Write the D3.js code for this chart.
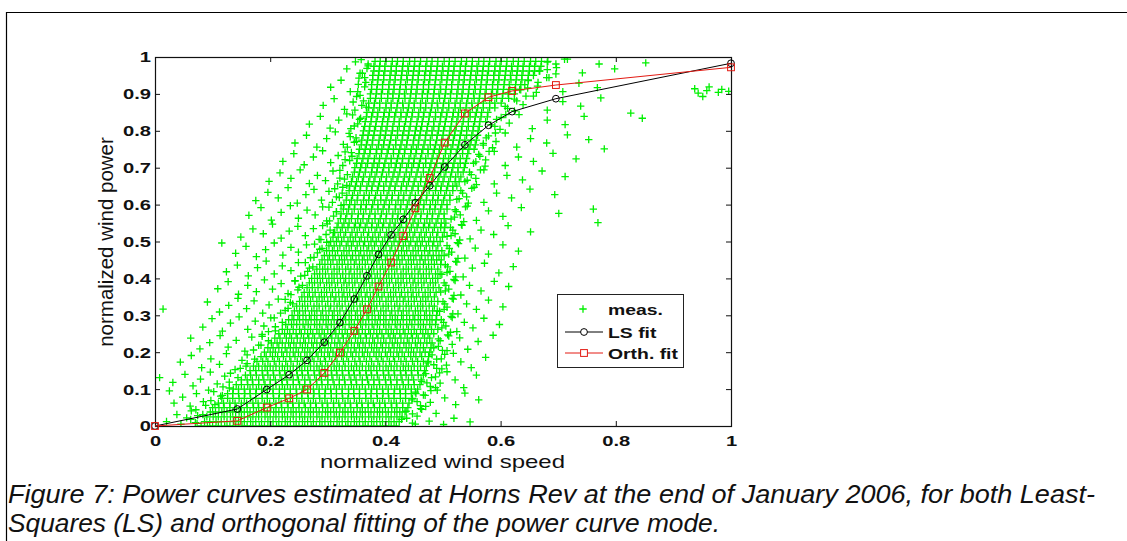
<!DOCTYPE html>
<html><head><meta charset="utf-8">
<script src="https://cdn.jsdelivr.net/npm/d3@7"></script>
<style>body{margin:0;background:#fff}svg{display:block}</style>
</head><body>
<svg id="c" width="1127" height="541"></svg>
<script>
// ---------- data ----------
const fitX  = [0,0.143,0.194,0.233,0.264,0.294,0.321,0.346,0.368,0.388,0.41,0.431,0.452,0.477,0.503,0.538,0.579,0.62,0.696,1.0];
const lsY   = [0,0.046,0.099,0.139,0.178,0.227,0.28,0.344,0.407,0.465,0.518,0.56,0.605,0.651,0.702,0.762,0.815,0.852,0.887,0.983];
const orthY = [0,0.014,0.05,0.075,0.099,0.144,0.199,0.258,0.316,0.378,0.443,0.515,0.59,0.672,0.768,0.847,0.891,0.908,0.924,0.972];
const xTicks = [0,0.2,0.4,0.6,0.8,1];
const yTicks = [0,0.1,0.2,0.3,0.4,0.5,0.6,0.7,0.8,0.9,1];
const legendLabels = ["meas.","LS fit","Orth. fit"];
const xLabel = "normalized wind speed";
const yLabel = "normalized wind power";
const captionLines = [
  "Figure 7: Power curves estimated at Horns Rev at the end of January 2006, for both Least-",
  "Squares (LS) and orthogonal fitting of the power curve mode."
];
// dense core of the measurements: [power x1000, [speed x1000 ...]]
const measCore = [
[0,[80,91,100,110,121,130,140,151,160,170,181,190,200,211,220,230,241,250,260,271,280,290,301,310,320,331,340,350,361,370,380,391,400,410,419]],
[12,[86,95,106,115,125,136,145,155,166,175,185,196,205,215,226,235,245,256,265,275,286,295,305,316,325,335,346,355,365,376,385,395,406,415,424]],
[25,[90,101,110,120,131,140,150,161,170,180,191,200,210,221,230,240,251,260,270,281,290,300,311,320,330,341,350,360,371,380,390,401,410,420,429]],
[38,[96,105,116,125,135,146,155,165,176,185,195,206,215,225,236,245,255,266,275,285,296,305,315,326,335,345,356,365,375,386,395,405,416,425,434]],
[50,[100,111,120,130,141,150,160,171,180,190,201,210,220,231,240,250,261,270,280,291,300,310,321,330,340,351,360,370,381,390,400,411,420,430,439]],
[62,[110,119,130,139,150,159,170,179,190,199,210,219,230,239,250,259,270,279,290,299,310,319,330,339,350,359,370,379,390,399,410,419,430,441]],
[75,[116,126,135,146,155,166,175,186,195,206,215,226,235,246,255,266,275,286,295,306,315,326,335,346,355,366,375,386,395,406,415,426,435,447]],
[88,[126,135,145,156,165,175,186,195,205,216,225,235,246,255,265,276,285,295,306,315,325,336,345,355,366,375,385,396,405,415,426,435,445,453]],
[100,[136,145,155,165,176,185,195,205,216,225,235,245,256,265,275,285,296,305,315,325,336,345,355,365,376,385,395,405,416,425,435,445,456]],
[112,[141,150,161,170,180,191,200,210,221,230,240,251,260,270,281,290,300,311,320,330,341,350,360,371,380,390,401,410,420,431,440,450,460]],
[125,[150,160,169,180,189,200,209,220,229,240,249,260,269,280,289,300,309,320,329,340,349,360,369,380,389,400,409,420,429,440,449,462]],
[138,[157,166,176,187,196,206,217,226,236,247,256,266,277,286,296,307,316,326,337,346,356,367,376,386,397,406,416,427,436,446,457,466]],
[150,[165,175,186,195,205,216,225,235,246,255,265,276,285,295,306,315,325,336,345,355,366,375,385,396,405,415,426,435,445,456,468]],
[162,[171,180,191,200,210,221,230,240,251,260,270,281,290,300,311,320,330,341,350,360,371,380,390,401,410,420,431,440,450,461,471]],
[175,[177,187,196,207,216,227,236,247,256,267,276,287,296,307,316,327,336,347,356,367,376,387,396,407,416,427,436,447,456,466,474]],
[188,[184,193,204,213,223,234,243,253,264,273,283,294,303,313,324,333,343,354,363,373,384,393,403,414,423,433,444,453,463,475]],
[200,[190,200,209,220,229,240,249,260,269,280,289,300,309,320,329,340,349,360,369,380,389,400,409,420,429,440,449,460,469,477]],
[212,[196,205,215,226,235,245,256,265,275,286,295,305,316,325,335,346,355,365,376,385,395,406,415,425,436,445,455,466,479]],
[225,[202,212,221,232,241,252,261,272,281,292,301,312,321,332,341,352,361,372,381,392,401,412,421,432,441,452,461,472,481]],
[238,[208,217,228,237,247,258,267,277,288,297,307,318,327,337,348,357,367,378,387,397,408,417,427,438,447,457,468,477]],
[250,[215,225,234,245,254,265,274,285,294,305,314,325,334,345,354,365,374,385,394,405,414,425,434,445,454,465,474,484]],
[262,[221,230,240,251,260,270,281,290,300,311,320,330,341,350,360,371,380,390,401,410,420,431,440,450,461,470,480]],
[275,[227,237,246,257,266,277,286,297,306,317,326,337,346,357,366,377,386,397,406,417,426,437,446,457,466,477,487]],
[288,[232,241,251,262,271,281,292,301,311,322,331,341,352,361,371,382,391,401,412,421,431,442,451,461,472,481,488]],
[300,[238,248,257,268,277,288,297,308,317,328,337,348,357,368,377,388,397,408,417,428,437,448,457,468,477,489]],
[312,[242,251,261,272,281,291,302,311,321,332,341,351,362,371,381,392,401,411,422,431,441,452,461,471,482,490]],
[325,[246,256,265,276,285,296,305,316,325,336,345,356,365,376,385,396,405,416,425,436,445,456,465,476,485]],
[338,[251,260,270,281,290,300,311,320,330,341,350,360,371,380,390,401,410,420,431,440,450,461,470,480,491]],
[350,[255,265,274,285,294,305,314,325,334,345,354,365,374,385,394,405,414,425,434,445,454,465,474,485]],
[362,[259,268,278,289,298,308,319,328,338,349,358,368,379,388,398,409,418,428,439,448,458,469,478,488]],
[375,[264,273,283,294,303,313,324,333,343,354,363,373,384,393,403,414,423,433,444,453,463,474,483,493]],
[388,[268,277,287,298,307,317,328,337,347,358,367,377,388,397,407,418,427,437,448,457,467,478,487]],
[400,[272,282,291,302,311,322,331,342,351,362,371,382,391,402,411,422,431,442,451,462,471,482,491]],
[412,[277,286,296,307,316,326,337,346,356,367,376,386,397,406,416,427,436,446,457,466,476,487,495]],
[425,[281,291,300,311,320,331,340,351,360,371,380,391,400,411,420,431,440,451,460,471,480,491]],
[438,[286,295,305,316,325,335,346,355,365,376,385,395,406,415,425,436,445,455,466,475,485,496]],
[450,[290,300,309,320,329,340,349,360,369,380,389,400,409,420,429,440,449,460,469,480,489,497]],
[462,[294,303,313,324,333,343,354,363,373,384,393,403,414,423,433,444,453,463,474,483,493]],
[475,[298,308,317,328,337,348,357,368,377,388,397,408,417,428,437,448,457,468,477,488,498]],
[488,[302,311,321,332,341,351,362,371,381,392,401,411,422,431,441,452,461,471,482,491]],
[500,[305,315,324,335,344,355,364,375,384,395,404,415,424,435,444,455,464,475,484,495]],
[512,[309,318,328,339,348,358,369,378,388,399,408,418,429,438,448,459,468,478,489,499]],
[525,[312,322,331,342,351,362,371,382,391,402,411,422,431,442,451,462,471,482,491,502]],
[538,[316,325,335,346,355,365,376,385,395,406,415,425,436,445,455,466,475,485,496,503]],
[550,[318,328,337,348,357,368,377,388,397,408,417,428,437,448,457,468,477,488,497,505]],
[562,[322,331,341,352,361,371,382,391,401,412,421,431,442,451,461,472,481,491,502]],
[575,[323,333,342,353,362,373,382,393,402,413,422,433,442,453,462,473,482,493,502]],
[588,[327,336,346,357,366,376,387,396,406,417,426,436,447,456,466,477,486,496,507]],
[600,[328,338,347,358,367,378,387,398,407,418,427,438,447,458,467,478,487,498,507]],
[612,[332,341,351,362,371,381,392,401,411,422,431,441,452,461,471,482,491,501,512]],
[625,[333,343,352,363,372,383,392,403,412,423,432,443,452,463,472,483,492,503,512]],
[638,[337,346,356,367,376,386,397,406,416,427,436,446,457,466,476,487,496,506,517]],
[650,[338,348,357,368,377,388,397,408,417,428,437,448,457,468,477,488,497,508,517,524]],
[662,[341,350,360,371,380,390,401,410,420,431,440,450,461,470,480,491,500,510,521,528]],
[675,[343,353,362,373,382,393,402,413,422,433,442,453,462,473,482,493,502,513,522,531]],
[688,[346,355,365,376,385,395,406,415,425,436,445,455,466,475,485,496,505,515,526,535]],
[700,[347,357,366,377,386,397,406,417,426,437,446,457,466,477,486,497,506,517,526,537]],
[712,[350,359,369,380,389,399,410,419,429,440,449,459,470,479,489,500,509,519,530,539]],
[725,[351,361,370,381,390,401,410,421,430,441,450,461,470,481,490,501,510,521,530,541]],
[738,[354,363,373,384,393,403,414,423,433,444,453,463,474,483,493,504,513,523,534,543]],
[750,[355,365,374,385,394,405,414,425,434,445,454,465,474,485,494,505,514,525,534,545,554]],
[762,[358,367,377,388,397,407,418,427,437,448,457,467,478,487,497,508,517,527,538,547,556]],
[775,[359,369,378,389,398,409,418,429,438,449,458,469,478,489,498,509,518,529,538,549,558]],
[788,[361,370,380,391,400,410,421,430,440,451,460,470,481,490,500,511,520,530,541,550,560]],
[800,[362,372,381,392,401,412,421,432,441,452,461,472,481,492,501,512,521,532,541,552,561]],
[812,[364,373,383,394,403,413,424,433,443,454,463,473,484,493,503,514,523,533,544,553,563]],
[825,[365,375,384,395,404,415,424,435,444,455,464,475,484,495,504,515,524,535,544,555,564,574]],
[838,[367,376,386,397,406,416,427,436,446,457,466,476,487,496,506,517,526,536,547,556,566,577]],
[850,[368,378,387,398,407,418,427,438,447,458,467,478,487,498,507,518,527,538,547,558,567,578]],
[862,[371,380,390,401,410,420,431,440,450,461,470,480,491,500,510,521,530,540,551,560,570,581,590]],
[875,[371,381,390,401,410,421,430,441,450,461,470,481,490,501,510,521,530,541,550,561,570,581,590,601]],
[888,[374,383,393,404,413,423,434,443,453,464,473,483,494,503,513,524,533,543,554,563,573,584,593,603,614]],
[900,[374,384,393,404,413,424,433,444,453,464,473,484,493,504,513,524,533,544,553,564,573,584,593,604,613,624]],
[912,[376,385,395,406,415,425,436,445,455,466,475,485,496,505,515,526,535,545,556,565,575,586,595,605,616,625,633]],
[925,[376,386,395,406,415,426,435,446,455,466,475,486,495,506,515,526,535,546,555,566,575,586,595,606,615,626,635,642]],
[938,[378,387,397,408,417,427,438,447,457,468,477,487,498,507,517,528,537,547,558,567,577,588,597,607,618,627,637,648]],
[950,[378,388,397,408,417,428,437,448,457,468,477,488,497,508,517,528,537,548,557,568,577,588,597,608,617,628,637,648,657]],
[962,[380,389,399,410,419,429,440,449,459,470,479,489,500,509,519,530,539,549,560,569,579,590,599,609,620,629,639,650,659,667]],
[975,[380,390,399,410,419,430,439,450,459,470,479,490,499,510,519,530,539,550,559,570,579,590,599,610,619,630,639,650,659,670]],
[988,[382,391,401,412,421,431,442,451,461,472,481,491,502,511,521,532,541,551,562,571,581,592,601,611,622,631,641,652,661,671,682]]
];
// points just outside the core edges: flat [speed, power, ...] x1000
const measEdge = [
62,18,73,7,437,21,452,5, 71,44,83,31,447,33,461,47, 88,56,97,69,455,66,470,53, 102,93,114,81,466,84,479,96,
118,106,129,119,472,117,487,104, 131,143,144,131,480,131,494,144, 148,156,160,169,484,166,498,155, 160,193,173,181,489,181,503,194,
171,206,184,219,492,216,507,204, 186,243,197,231,495,231,510,244, 197,256,209,269,498,266,513,254, 207,293,221,281,501,281,516,294,
218,306,231,319,502,316,517,304, 226,343,239,331,503,331,518,344, 236,356,248,369,504,366,519,354, 243,393,256,381,505,381,521,394,
253,406,265,419,507,416,522,404, 261,443,274,431,508,431,524,444, 270,456,282,469,510,466,526,454, 277,493,290,481,511,481,527,494,
285,506,297,519,514,516,529,504, 291,543,304,531,517,531,533,544, 298,556,310,569,520,566,536,554, 302,593,315,581,523,581,539,594,
308,606,320,619,528,616,544,604, 312,643,325,631,534,631,550,644, 317,656,329,669,542,666,558,654, 321,693,334,681,549,681,565,694,
326,706,338,719,557,716,573,704, 330,743,342,731,564,731,580,744, 334,756,346,769,570,766,586,754, 337,793,349,781,575,781,591,794,
340,806,352,819,583,816,599,804, 343,843,355,831,593,831,609,844, 347,856,359,869,608,866,624,854, 350,893,362,881,628,881,644,894,
352,906,364,919,647,916,662,904, 354,943,366,931,665,931,680,944, 356,956,368,969,681,966,696,954, 358,993,370,981,696,981,711,994
];
// scattered measurements further out: flat [speed, power, ...] x1000
const measSparse = [
20,12,38,31,45,5,55,22,63,41,70,9,74,28,428,18,436,40,447,8,455,27,463,45,476,13,488,34,501,4,519,21,547,11,
25,95,33,62,48,78,61,54,72,88,84,66,93,97,104,58,117,83,446,71,452,92,461,55,469,83,478,64,490,97,503,76,522,58,538,89,562,71,
8,131,31,118,52,140,66,109,79,127,96,146,108,114,121,135,129,103,463,121,470,142,478,107,487,133,495,116,507,147,521,125,536,104,558,138,
44,173,63,191,81,158,97,182,112,167,124,196,139,153,151,178,158,162,474,171,481,193,489,156,497,182,506,165,518,197,531,174,549,158,574,186,
62,238,78,209,95,226,113,245,127,214,141,232,156,203,168,241,180,219,186,248,484,212,492,236,499,205,508,247,516,221,529,239,543,208,561,229,587,246,
83,268,99,291,117,257,131,279,146,296,161,262,174,284,189,271,201,293,209,258,491,262,497,288,505,271,514,297,524,256,537,281,552,266,571,292,598,275,
14,317,91,336,112,309,128,327,144,346,159,318,172,339,187,306,198,328,214,344,226,313,235,335,494,311,500,337,507,322,516,346,526,304,541,331,558,316,579,341,604,323,
109,372,127,391,145,357,161,381,176,364,190,396,204,371,219,386,231,359,243,394,250,376,496,363,502,388,510,371,519,397,531,355,546,381,566,366,589,392,614,378,
124,418,143,436,162,407,178,429,193,447,207,412,221,434,236,421,249,443,260,408,268,428,498,411,504,437,512,419,522,446,535,404,551,428,572,441,597,415,622,432,
116,496,140,468,158,487,176,459,192,478,207,496,222,463,236,484,249,471,263,491,276,457,286,479,298,498,502,462,507,489,515,471,525,497,538,455,556,482,579,466,604,491,631,474,
149,512,170,534,188,521,204,547,219,509,233,528,248,541,261,516,275,535,288,505,299,548,310,524,507,514,513,538,521,521,532,546,547,507,566,531,588,519,613,543,652,526,769,551,
163,571,184,592,202,558,219,579,235,597,249,563,264,585,278,572,291,594,303,556,315,581,323,598,514,561,521,586,530,572,542,596,558,557,579,583,604,568,636,592,701,576,761,588,
175,611,196,633,214,618,231,646,247,604,262,627,276,641,289,612,302,636,315,621,326,647,524,614,531,638,541,621,554,647,571,606,593,631,619,618,651,642,694,627,
198,663,217,686,236,671,252,694,268,657,282,679,296,665,309,691,321,672,333,652,538,662,546,688,557,671,571,694,589,656,611,679,638,667,672,691,712,676,
222,717,241,738,259,708,275,729,291,746,305,714,318,733,330,722,341,741,553,712,562,736,574,721,589,744,608,706,631,729,657,717,691,739,731,724,
243,767,263,788,281,756,298,779,313,797,327,763,339,784,350,771,570,761,579,786,592,771,608,794,628,756,652,779,680,767,716,789,753,776,780,751,
268,818,287,839,304,807,319,829,333,846,346,813,357,834,590,812,601,836,615,821,632,844,655,806,681,829,712,817,745,839,826,848,846,834,
292,869,311,887,329,858,344,878,356,896,367,864,612,861,624,886,639,871,657,894,681,856,708,879,739,867,774,889,951,893,
305,918,323,937,339,906,353,926,364,944,635,911,648,936,664,921,684,944,708,906,736,929,768,917,937,914,943,902,958,909,962,919,978,904,984,912,996,907,
333,968,348,987,360,956,370,976,668,962,681,986,697,971,716,994,742,957,771,981,798,968,852,984
];

// ---------- drawing ----------
const svg = d3.select("#c");
const W = 1127, H = 541;
const plot = {left:155, right:731, top:57, bottom:426};
const x = d3.scaleLinear().domain([0,1]).range([plot.left, plot.right]);
const y = d3.scaleLinear().domain([0,1]).range([plot.bottom, plot.top]);
const SX = 1.3; // horizontal stretch of chart text in the picture
const GREEN = "#00f000", RED = "#e31a12", BLACK = "#000";
const FONT = "'Liberation Sans', Arial, sans-serif";

function stretch(sel, k){
  sel.each(function(){
    const w = this.getComputedTextLength();
    d3.select(this).attr("textLength", w*k).attr("lengthAdjust","spacingAndGlyphs");
  });
}

svg.append("rect").attr("width",W).attr("height",H).attr("fill","#fff");
svg.append("path").attr("d","M6.5,541V12.5H1127").attr("fill","none").attr("stroke","#000").attr("stroke-width",1.2);

// scatter
svg.append("clipPath").attr("id","pc").append("rect")
  .attr("x",plot.left).attr("y",plot.top).attr("width",plot.right-plot.left).attr("height",plot.bottom-plot.top);
const pts = [];
measCore.forEach(([py, xs]) => xs.forEach(v => pts.push([v/1000, py/1000])));
[measEdge, measSparse].forEach(arr => {
  for (let i = 0; i < arr.length; i += 2) pts.push([arr[i]/1000, arr[i+1]/1000]);
});
const cross = "M-3.7,0H3.7M0,-3.7V3.7";
svg.append("g").attr("clip-path","url(#pc)")
  .selectAll("path").data(pts).join("path")
  .attr("d",cross)
  .attr("transform",d=>`translate(${x(d[0])},${y(d[1])})`)
  .attr("stroke",GREEN).attr("stroke-width",1.3).attr("fill","none");

// axes (box with inward ticks)
const fmt = d => String(d);
const gx = svg.append("g").attr("transform",`translate(0,${plot.bottom})`)
  .call(d3.axisBottom(x).tickValues(xTicks).tickSize(-5).tickPadding(9).tickFormat(fmt));
const gy = svg.append("g").attr("transform",`translate(${plot.left},0)`)
  .call(d3.axisLeft(y).tickValues(yTicks).tickSize(-5).tickPadding(4).tickFormat(fmt));
const gt = svg.append("g").attr("transform",`translate(0,${plot.top})`)
  .call(d3.axisTop(x).tickValues(xTicks).tickSize(-5).tickFormat(""));
const gr = svg.append("g").attr("transform",`translate(${plot.right},0)`)
  .call(d3.axisRight(y).tickValues(yTicks).tickSize(-5).tickFormat(""));
[gx,gy,gt,gr].forEach(g=>{
  g.attr("font-family",FONT).attr("font-size",15.5).attr("font-weight","bold");
  g.select(".domain").remove();
  g.selectAll(".tick line").attr("stroke","#111").attr("stroke-width",1);
  g.selectAll("text").attr("fill","#111");
});
stretch(gx.selectAll("text"), SX);
stretch(gy.selectAll("text"), SX);
svg.append("rect").attr("x",plot.left+0.5).attr("y",plot.top+0.5)
  .attr("width",plot.right-plot.left).attr("height",plot.bottom-plot.top)
  .attr("fill","none").attr("stroke","#111").attr("stroke-width",1.2);

// fitted curves
const line = d3.line().x(d=>x(d[0])).y(d=>y(d[1]));
const lsData = fitX.map((v,i)=>[v,lsY[i]]);
const orData = fitX.map((v,i)=>[v,orthY[i]]);
svg.append("path").datum(lsData).attr("d",line).attr("fill","none").attr("stroke",BLACK).attr("stroke-width",1);
svg.append("g").selectAll("circle").data(lsData).join("circle")
  .attr("cx",d=>x(d[0])).attr("cy",d=>y(d[1])).attr("r",3.4)
  .attr("fill","none").attr("stroke",BLACK).attr("stroke-width",1);
svg.append("path").datum(orData).attr("d",line).attr("fill","none").attr("stroke",RED).attr("stroke-width",1);
svg.append("g").selectAll("rect").data(orData).join("rect")
  .attr("x",d=>x(d[0])-3.4).attr("y",d=>y(d[1])-3.4).attr("width",6.8).attr("height",6.8)
  .attr("fill","none").attr("stroke",RED).attr("stroke-width",1);

// axis labels
svg.append("text").attr("x",442.5).attr("y",468)
  .attr("text-anchor","middle").attr("font-family",FONT)
  .attr("font-size",19).attr("fill","#111")
  .attr("textLength",245).attr("lengthAdjust","spacingAndGlyphs").text(xLabel);
svg.append("text").attr("transform","translate(113,242) rotate(-90)")
  .attr("text-anchor","middle").attr("font-family",FONT)
  .attr("font-size",20.5).attr("fill","#111").text(yLabel);

// legend
const L = {x:557, y:294, w:126, h:73};
const lg = svg.append("g");
lg.append("rect").attr("x",L.x+0.5).attr("y",L.y+0.5).attr("width",L.w).attr("height",L.h)
  .attr("fill","#fff").attr("stroke","#222").attr("stroke-width",1);
const rowsY = [309, 332, 353];
lg.append("path").attr("d",cross).attr("transform",`translate(583,${rowsY[0]})`)
  .attr("stroke",GREEN).attr("stroke-width",1.3);
lg.append("line").attr("x1",565).attr("x2",603).attr("y1",rowsY[1]).attr("y2",rowsY[1]).attr("stroke",BLACK);
lg.append("circle").attr("cx",584).attr("cy",rowsY[1]).attr("r",3.4).attr("fill","#fff").attr("stroke",BLACK);
lg.append("line").attr("x1",565).attr("x2",603).attr("y1",rowsY[2]).attr("y2",rowsY[2]).attr("stroke",RED);
lg.append("rect").attr("x",584-3.4).attr("y",rowsY[2]-3.4).attr("width",6.8).attr("height",6.8).attr("fill","#fff").attr("stroke",RED);
const lt = lg.selectAll("text.lbl").data(legendLabels).join("text").attr("class","lbl")
  .attr("x",608).attr("y",(d,i)=>rowsY[i]+5.5)
  .attr("font-family",FONT).attr("font-size",15.5).attr("font-weight","bold")
  .attr("fill","#111").text(d=>d);
stretch(lt, 1.25);

// caption
svg.append("g").selectAll("text").data(captionLines).join("text")
  .attr("x",8).attr("y",(d,i)=>503+i*29)
  .attr("font-family",FONT).attr("font-style","italic")
  .attr("font-size",26).attr("fill","#111")
  .attr("textLength",(d,i)=>i===0?1087:712).attr("lengthAdjust","spacingAndGlyphs")
  .text(d=>d);
</script>
</body></html>
